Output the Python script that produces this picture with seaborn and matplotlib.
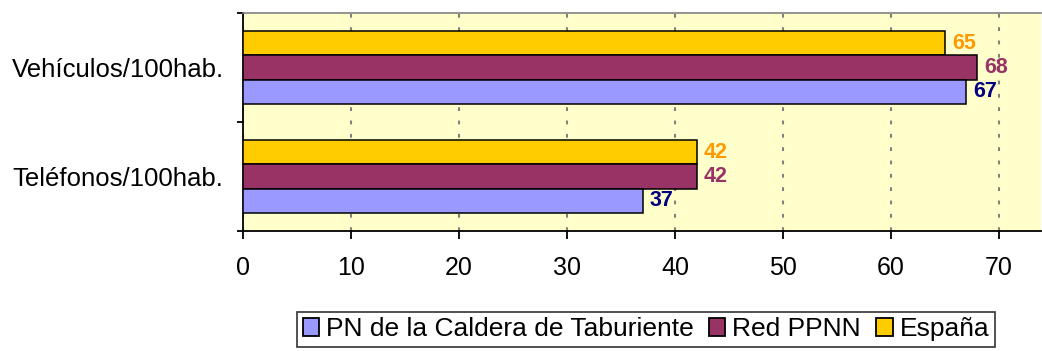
import matplotlib
matplotlib.use("Agg")
import matplotlib.pyplot as plt
import seaborn as sns
import pandas as pd
from matplotlib.patches import Patch

categories = ["Vehículos/100hab.", "Teléfonos/100hab."]
series_names = ["PN de la Caldera de Taburiente", "Red PPNN", "España"]
pn_values = [67, 37]
red_values = [68, 42]
espana_values = [65, 42]
x_ticks = [0, 10, 20, 30, 40, 50, 60, 70]

colors = {"PN de la Caldera de Taburiente": "#9999FF", "Red PPNN": "#993366", "España": "#FFCC00"}
label_colors = {"PN de la Caldera de Taburiente": "#000080", "Red PPNN": "#993366", "España": "#FF9900"}

rows = []
for s, vals in zip(series_names, [pn_values, red_values, espana_values]):
    for c, v in zip(categories, vals):
        rows.append({"cat": c, "serie": s, "val": v})
df = pd.DataFrame(rows)

sns.set_style("white")
plt.rcParams["font.family"] = ["Liberation Sans", "DejaVu Sans"]
plt.rcParams["text.color"] = "black"
plt.rcParams["xtick.color"] = "black"
plt.rcParams["ytick.color"] = "black"
plt.rcParams["axes.labelcolor"] = "black"

fig = plt.figure(figsize=(10.42, 3.51), dpi=100)
ax = fig.add_axes([243/1042, (351-231)/351, (1041-243)/1042, (231-13)/351])
ax.set_facecolor("#FFFFCC")

hue_order = ["España", "Red PPNN", "PN de la Caldera de Taburiente"]
sns.barplot(data=df, y="cat", x="val", hue="serie", order=categories, hue_order=hue_order,
            palette=colors, saturation=1, orient="h", width=0.67, edgecolor="black", linewidth=1.1,
            legend=False, ax=ax, zorder=3)

# data labels
for container, s in zip(ax.containers, hue_order):
    ax.bar_label(container, labels=[f"{int(v)}" for v in container.datavalues], padding=5,
                 color=label_colors[s], fontsize=15.5, fontweight="bold")

ax.set_xlim(0, 73.9)
ax.set_ylim(1.5, -0.5)
ax.set_xticks(x_ticks)
ax.set_xticklabels([str(t) for t in x_ticks], fontsize=18, color="black")
ax.set_yticks([0, 1])
ax.set_yticklabels(categories, fontsize=18.5, color="black")
ax.tick_params(axis="y", which="major", length=0, pad=14)
ax.set_yticks([-0.5, 0.5, 1.5], minor=True)
ax.tick_params(axis="y", which="minor", length=4.5, width=1.3, direction="out", color="black", left=True)
ax.tick_params(axis="x", length=6, width=1.3, direction="out", color="black", bottom=True, pad=12)
ax.set_xlabel("")
ax.set_ylabel("")

ax.xaxis.grid(True, color="#808080", linestyle=(0, (1.8, 4.6)), linewidth=1.5, zorder=0)
ax.yaxis.grid(False)
ax.set_axisbelow(True)

for side in ["left", "bottom"]:
    ax.spines[side].set_color("black")
    ax.spines[side].set_linewidth(1.3)
ax.spines["top"].set_color("#808080")
ax.spines["top"].set_linewidth(1.2)
ax.spines["right"].set_visible(False)

handles = [Patch(facecolor=colors[s], edgecolor="black", linewidth=1.3) for s in series_names]
leg = fig.legend(handles, series_names, loc="upper center", bbox_to_anchor=(646/1042, 1 - 312/351),
                 ncol=3, fontsize=19, frameon=True, fancybox=False, edgecolor="black",
                 handlelength=0.62, handleheight=0.62, handletextpad=0.27, columnspacing=0.57,
                 borderpad=0.2, borderaxespad=0)
leg.get_frame().set_linewidth(1.2)
for t in leg.get_texts():
    t.set_color("black")

fig.savefig("out.png", dpi=100)
